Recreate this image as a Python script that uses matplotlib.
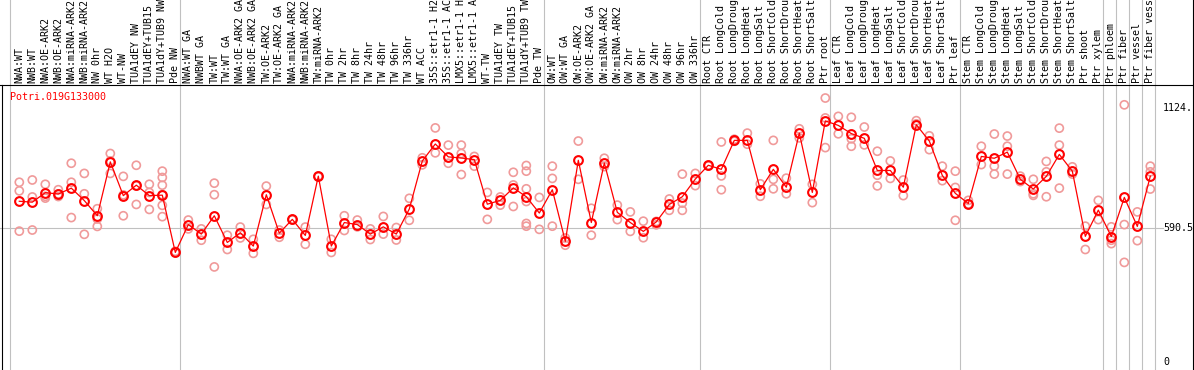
import matplotlib
matplotlib.use("Agg")
import matplotlib.pyplot as plt
import matplotlib.transforms as mtransforms

gene = "Potri.019G133000"

# samples, grouped by experiment (separator lines drawn between groups)
group_sizes = [13, 28, 12, 10, 10, 11, 1, 1, 1, 1]
labels = [
    "NWA:WT", "NWB:WT", "NWA:OE-ARK2", "NWB:OE-ARK2", "NWA:miRNA-ARK2", "NWB:miRNA-ARK2",
    "NW 0hr", "WT H2O", "WT-NW", "TUA1dEY NW", "TUA1dEY+TUB15 NW", "TUA1dY+TUB9 NW", "Pde NW",
    "NWA:WT GA", "NWBWT GA", "TW:WT", "TW:WT GA", "NWA:OE-ARK2 GA", "NWB:OE-ARK2 GA",
    "TW:OE-ARK2", "TW:OE-ARK2 GA", "NWA:miRNA-ARK2", "NWB:miRNA-ARK2", "TW:miRNA-ARK2",
    "TW 0hr", "TW 2hr", "TW 8hr", "TW 24hr", "TW 48hr", "TW 96hr", "TW 336hr", "WT ACC",
    "35S::etr1-1 H2O", "35S::etr1-1 ACC", "LMX5::etr1-1 H2O", "LMX5::etr1-1 ACC", "WT-TW",
    "TUA1dEY TW", "TUA1dEY+TUB15 TW", "TUA1dY+TUB9 TW", "Pde TW",
    "OW:WT", "OW:WT GA", "OW:OE-ARK2", "OW:OE-ARK2 GA", "OW:miRNA-ARK2", "OW:miRNA-ARK2",
    "OW 2hr", "OW 8hr", "OW 24hr", "OW 48hr", "OW 96hr", "OW 336hr",
    "Root CTR", "Root LongCold", "Root LongDrought", "Root LongHeat", "Root LongSalt",
    "Root ShortCold", "Root ShortDrought", "Root ShortHeat", "Root ShortSalt", "Ptr root",
    "Leaf CTR", "Leaf LongCold", "Leaf LongDrought", "Leaf LongHeat", "Leaf LongSalt",
    "Leaf ShortCold", "Leaf ShortDrought", "Leaf ShortHeat", "Leaf ShortSalt", "Ptr leaf",
    "Stem CTR", "Stem LongCold", "Stem LongDrought", "Stem LongHeat", "Stem LongSalt",
    "Stem ShortCold", "Stem ShortDrought", "Stem ShortHeat", "Stem ShortSalt", "Ptr shoot",
    "Ptr xylem", "Ptr phloem", "Ptr fiber", "Ptr vessel", "Ptr fiber vessel",
]

means = [
    710, 706, 748, 742, 768, 713, 646, 884, 735, 781, 735, 737, 484,
    607, 565, 646, 528, 571, 512, 739, 569, 630, 559, 821, 512, 616, 607, 565, 597, 565,
    676, 888, 963, 906, 901, 894, 697, 714, 769, 730, 658,
    761, 533, 891, 616, 879, 661, 616, 577, 619, 696, 730, 808,
    869, 851, 979, 979, 761, 851, 772, 1011, 749, 1065,
    1045, 1009, 988, 846, 846, 772, 1048, 976, 824, 745,
    700, 908, 900, 927, 807, 764, 820, 917, 843, 555, 671,
    554, 727, 599, 821,
]

reps = [
    [794, 756, 578], [804, 729, 583], [785, 732, 724], [761, 742, 731], [878, 794, 638],
    [833, 743, 564], [677, 632, 599], [921, 833, 888], [820, 646, 738], [869, 696, 778],
    [785, 749, 674], [843, 815, 781, 692, 642, 739], [482, 489],
    [627, 588], [588, 538], [790, 739, 420], [560, 497], [596, 548], [542, 480],
    [777, 696], [583, 551], [630, 628], [596, 520], [821, 818], [542, 484], [646, 581],
    [627, 597], [588, 541], [643, 565], [594, 539], [723, 626], [902, 871], [1034, 924],
    [958, 878], [958, 921, 828], [908, 865], [749, 630], [729, 693], [838, 782, 687],
    [868, 843, 765, 709, 612, 600], [727, 586],
    [865, 811, 600], [548, 516], [976, 807], [679, 560], [900, 863], [693, 629],
    [663, 577], [622, 549], [606, 621], [720, 670], [830, 702, 670], [833, 779],
    [869, 866], [972, 822, 761], [984, 975], [1011, 962], [787, 732], [979, 807, 765],
    [812, 743], [1030, 990], [785, 704], [1166, 1078, 947],
    [1085, 1008], [1081, 986, 953], [1038, 959], [931, 825, 778], [888, 811],
    [804, 735], [1066, 1052], [999, 938], [865, 801], [843, 771, 626],
    [714, 698], [953, 872], [1007, 865, 830], [998, 953, 830], [821, 797],
    [807, 736, 743], [886, 840, 730], [1033, 958, 768], [862, 830], [600, 497], [714, 629],
    [597, 538, 523], [1136, 607, 440], [663, 536], [865, 840, 764],
]

tick_values = [1124, 590.5, 0]
tick_labels = ["1124.", "590.5", "0"]

W, H = 1194, 370
grey = "#c0c0c0"
mono = "DejaVu Sans Mono"

fig = plt.figure(figsize=(W / 100, H / 100), dpi=100)
ax = fig.add_axes([0, 0, 1, 1])
ax.set_xlim(-1.485, 90.36)
ax.set_ylim(-35.3, 1599)
ax.axis("off")

xdata_yaxes = mtransforms.blended_transform_factory(ax.transData, ax.transAxes)
xaxes_ydata = mtransforms.blended_transform_factory(ax.transAxes, ax.transData)
top = 1 - 85 / H

# mid grid line
ax.plot([0, 1163 / W], [590.5, 590.5], transform=xaxes_ydata, color=grey, lw=0.8, zorder=1)

# group separators
edges = [-0.7]
c = 0
for n in group_sizes:
    c += n
    edges.append(c - 0.62)
for e in edges:
    ax.axvline(e, color=grey, lw=0.8, zorder=1)

# frame lines
ax.plot([0, 1], [top, top], transform=ax.transAxes, color="black", lw=0.8)
ax.plot([2 / W, 2 / W], [0, top], transform=ax.transAxes, color="black", lw=0.8)
ax.plot([1192.5 / W, 1192.5 / W], [0, 1], transform=ax.transAxes, color="black", lw=0.8)

# replicates
for i, vals in enumerate(reps):
    ax.scatter([i] * len(vals), vals, s=34, facecolors="none", edgecolors="#f09a9a",
               linewidths=1.2, zorder=2)

# means
x = list(range(len(means)))
ax.plot(x, means, color="red", lw=0.9, marker="o", ms=6.3, mfc="none", mew=1.5, zorder=3)

# sample labels
for i, lab in enumerate(labels):
    ax.text(i, 1 - 83 / H, lab, transform=xdata_yaxes, rotation=90, ha="center",
            va="bottom", fontsize=7.2, family=mono, color="black")

ax.text(10 / W, 1 - 97 / H, gene, transform=ax.transAxes, color="red", fontsize=7.2,
        family=mono, ha="left", va="center")

for v, t in zip(tick_values, tick_labels):
    ax.text(1163 / W, v, t, transform=xaxes_ydata, ha="left", va="center",
            fontsize=7.2, family=mono, color="black")

fig.savefig("out.png", dpi=100)
